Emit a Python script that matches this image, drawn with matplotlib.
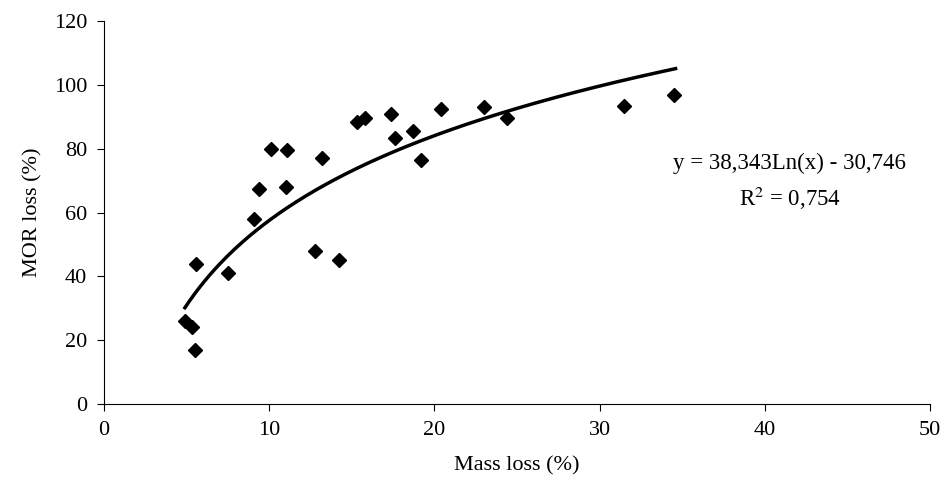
import numpy as np
import matplotlib.pyplot as plt

plt.rcParams['font.family'] = ['Liberation Serif', 'DejaVu Serif']
plt.rcParams['mathtext.fontset'] = 'stix'

mass_loss = [4.9, 5.35, 5.5, 5.6, 7.5, 9.1, 9.4, 10.1, 11.0, 11.1, 12.8, 13.2, 14.2,
             15.3, 15.8, 17.4, 17.6, 18.7, 19.2, 20.4, 23.0, 24.4, 31.5, 34.5]
mor_loss = [26, 24, 17, 44, 41, 58, 67.5, 80, 68, 79.5, 48, 77, 45,
            88.5, 89.5, 91, 83.5, 85.5, 76.5, 92.5, 93, 89.5, 93.5, 97]

# log fit reported on the chart
a, b = 38.343, -30.746
fit_x = np.linspace(4.9, 34.6, 200)
fit_y = a * np.log(fit_x) + b

fig = plt.figure(figsize=(9.41, 4.93), dpi=100)
ax = fig.add_axes([0.1105, 0.1805, 0.8778, 0.7765])

ax.plot(mass_loss, mor_loss, 'D', color='black', markersize=7, linestyle='none')
ax.plot(fit_x, fit_y, color='black', linewidth=2.5)

ax.set_xlim(0, 50)
ax.set_ylim(0, 120)
ax.set_xticks(range(0, 51, 10))
ax.set_yticks(range(0, 121, 20))
ax.spines['top'].set_visible(False)
ax.spines['right'].set_visible(False)
ax.tick_params(labelsize=16, length=5, width=0.8, pad=7)
ax.set_xlabel('Mass loss (%)', fontsize=16, labelpad=12)
ax.set_ylabel('MOR loss (%)', fontsize=16, labelpad=8)

ax.text(41.5, 75.5, 'y = 38,343Ln(x) - 30,746', fontsize=16.5, ha='center', va='center')
ax.text(41.5, 64.5, 'R$^2$ = 0,754', fontsize=16.5, ha='center', va='center')

fig.savefig('out.png', dpi=100)
